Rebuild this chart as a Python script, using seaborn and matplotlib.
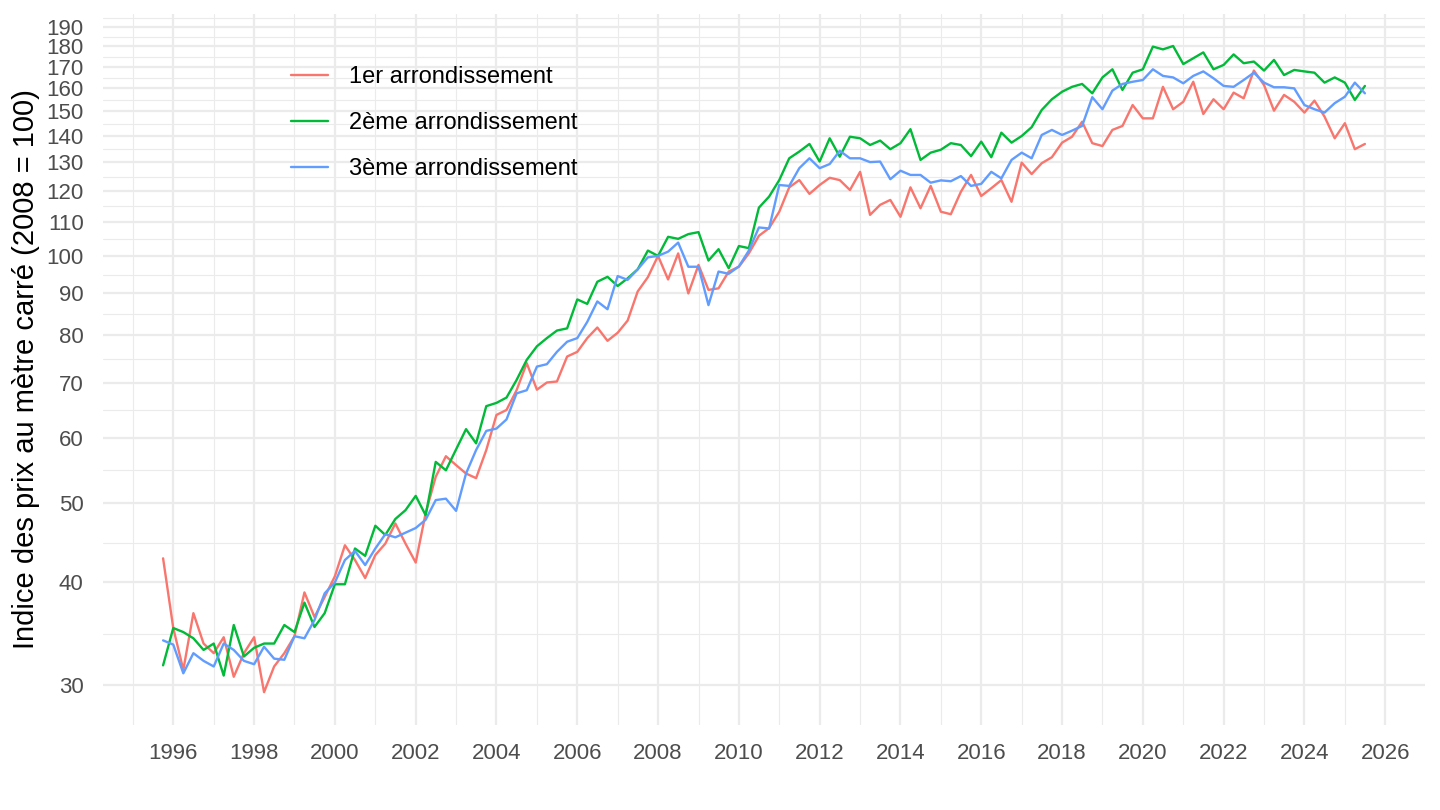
import numpy as np
import pandas as pd
import matplotlib
matplotlib.use("Agg")
import matplotlib.pyplot as plt
import matplotlib.dates as mdates
from matplotlib.ticker import FixedLocator, NullFormatter
import seaborn as sns

# quarterly index, 2008 = 100
dates = pd.date_range("1995-10-01", periods=120, freq="QS")

arr1 = [42.8, 35.2, 31.3, 36.7, 33.7, 32.8, 34.3, 30.7, 32.8, 34.3,
        29.4, 31.6, 32.8, 34.4, 38.9, 36.3, 38.4, 40.7, 44.4, 42.6,
        40.5, 43.2, 44.6, 47.2, 44.6, 42.3, 48.6, 53.8, 57.0, 55.6,
        54.3, 53.6, 58.0, 64.0, 64.9, 68.6, 74.0, 68.7, 70.1, 70.3,
        75.4, 76.4, 79.4, 81.8, 78.8, 80.6, 83.4, 90.5, 94.2, 100.0,
        93.6, 100.7, 90.0, 97.5, 90.9, 91.3, 95.7, 97.0, 100.7, 105.8,
        108.1, 113.2, 121.2, 123.7, 119.0, 122.0, 124.5, 123.7, 120.3, 126.6,
        112.2, 115.4, 117.0, 111.6, 121.2, 114.3, 121.7, 113.2, 112.4, 119.7,
        125.5, 118.3, 120.9, 123.7, 116.4, 129.9, 125.8, 129.7, 131.9, 137.4,
        139.7, 145.7, 137.2, 136.1, 142.4, 144.0, 152.7, 147.1, 147.1, 160.7,
        150.9, 154.1, 163.0, 148.9, 155.2, 150.9, 158.1, 155.6, 168.2, 161.5,
        150.3, 157.1, 154.1, 149.5, 154.6, 147.8, 139.1, 145.1, 134.9, 136.9]

arr2 = [31.7, 35.2, 34.8, 34.2, 33.1, 33.7, 30.8, 35.5, 32.5, 33.3,
        33.7, 33.7, 35.5, 34.8, 37.8, 35.3, 36.7, 39.8, 39.8, 44.0,
        43.1, 46.9, 45.7, 47.8, 49.0, 51.0, 48.3, 56.1, 54.8, 58.1,
        61.5, 59.1, 65.6, 66.2, 67.2, 70.6, 74.7, 77.6, 79.4, 81.1,
        81.6, 88.5, 87.4, 93.0, 94.3, 91.9, 93.9, 96.3, 101.5, 100.0,
        105.5, 104.9, 106.3, 106.9, 98.7, 101.9, 96.6, 102.8, 102.2, 114.5,
        118.1, 123.7, 131.5, 134.0, 136.9, 130.3, 139.1, 132.1, 139.7, 139.1,
        136.5, 138.2, 134.9, 137.2, 142.7, 130.9, 133.6, 134.7, 137.2, 136.5,
        132.3, 137.8, 131.9, 141.3, 137.4, 140.0, 143.5, 150.6, 155.2, 158.5,
        160.7, 162.0, 157.8, 165.0, 168.8, 159.3, 167.2, 168.8, 179.9, 178.5,
        180.2, 171.3, 174.1, 177.0, 168.8, 170.9, 176.0, 171.7, 172.5, 168.2,
        173.3, 166.1, 168.5, 167.8, 167.2, 162.6, 165.0, 162.6, 154.9, 161.1]

arr3 = [34.0, 33.6, 31.0, 32.8, 32.1, 31.6, 33.7, 33.1, 32.1, 31.8,
        33.4, 32.3, 32.2, 34.4, 34.2, 36.0, 38.8, 40.0, 42.6, 43.7,
        42.0, 44.0, 45.8, 45.4, 46.0, 46.6, 47.7, 50.4, 50.6, 48.9,
        54.3, 58.0, 61.2, 61.6, 63.2, 68.0, 68.6, 73.3, 73.8, 76.4,
        78.6, 79.4, 83.1, 88.0, 86.1, 94.5, 93.5, 96.3, 99.6, 100.0,
        101.2, 103.8, 97.0, 97.0, 87.1, 95.7, 95.1, 97.1, 101.5, 108.3,
        108.0, 122.0, 121.7, 127.9, 131.5, 127.9, 129.4, 134.3, 131.5, 131.5,
        130.1, 130.3, 124.0, 127.0, 125.5, 125.5, 122.8, 123.6, 123.3, 125.1,
        121.7, 122.4, 126.6, 124.3, 130.9, 133.6, 131.5, 140.4, 142.4, 140.4,
        142.1, 144.0, 156.1, 150.9, 159.0, 162.0, 163.0, 163.8, 168.8, 165.7,
        165.0, 162.3, 165.7, 167.8, 164.6, 161.1, 160.7, 163.8, 167.2, 162.6,
        160.5, 160.5, 160.0, 152.7, 150.9, 149.5, 153.5, 156.3, 162.6, 157.8]

labels = ["1er arrondissement", "2ème arrondissement", "3ème arrondissement"]
colors = ["#F8766D", "#00BA38", "#619CFF"]
y_breaks = list(range(30, 200, 10))

df = pd.DataFrame({
    "date": np.tile(dates, 3),
    "indice": arr1 + arr2 + arr3,
    "arrondissement": np.repeat(labels, len(dates)),
})

sns.set_theme(style="white")
plt.rcParams["font.family"] = ["Liberation Sans", "DejaVu Sans"]

fig = plt.figure(figsize=(14.4, 8.1), dpi=100)
ax = fig.add_axes([103 / 1440, 1 - 724.5 / 810, (1425 - 103) / 1440, (724.5 - 13.7) / 810])

sns.lineplot(data=df, x="date", y="indice", hue="arrondissement",
             palette=colors, linewidth=1.7, ax=ax)
ax.set_yscale("log")

# ggplot-like 5% expansion (log space for y)
lo, hi = np.log(df["indice"].min()), np.log(df["indice"].max())
pad = 0.05 * (hi - lo)
ax.set_ylim(np.exp(lo - pad), np.exp(hi + pad))
d0, d1 = mdates.date2num(dates[0]), mdates.date2num(dates[-1])
ax.set_xlim(d0 - 0.05 * (d1 - d0), d1 + 0.05 * (d1 - d0))

ax.yaxis.set_major_locator(FixedLocator(y_breaks))
ax.set_yticklabels([str(v) for v in y_breaks])
ext = y_breaks + [200]
minors = [np.sqrt(a * b) for a, b in zip(ext[:-1], ext[1:])]
ax.yaxis.set_minor_locator(FixedLocator(minors))
ax.yaxis.set_minor_formatter(NullFormatter())

ax.xaxis.set_major_locator(mdates.YearLocator(2))
ax.xaxis.set_major_formatter(mdates.DateFormatter("%Y"))
ax.xaxis.set_minor_locator(mdates.YearLocator(1))

ax.grid(which="major", color="#EBEBEB", linewidth=1.6)
ax.grid(which="minor", color="#EBEBEB", linewidth=0.8)
ax.set_axisbelow(True)
for s in ax.spines.values():
    s.set_visible(False)

ax.tick_params(axis="both", which="both", length=0, labelsize=16, labelcolor="#4D4D4D")
ax.tick_params(axis="y", pad=14)
ax.tick_params(axis="x", pad=13)

ax.set_xlabel("")
ax.set_ylabel("Indice des prix au mètre carré (2008 = 100)", fontsize=21, color="black")
ax.yaxis.set_label_coords(-0.0476, 0.5)

h, l = ax.get_legend_handles_labels()
leg = ax.legend(handles=h, labels=l, loc="upper left", bbox_to_anchor=(0.142, 0.926),
                frameon=False, fontsize=17, handlelength=1.57, handletextpad=0.9,
                labelspacing=1.01, borderpad=0, borderaxespad=0)
for t in leg.get_texts():
    t.set_color("black")

fig.savefig("out.png", dpi=100, facecolor="white")
